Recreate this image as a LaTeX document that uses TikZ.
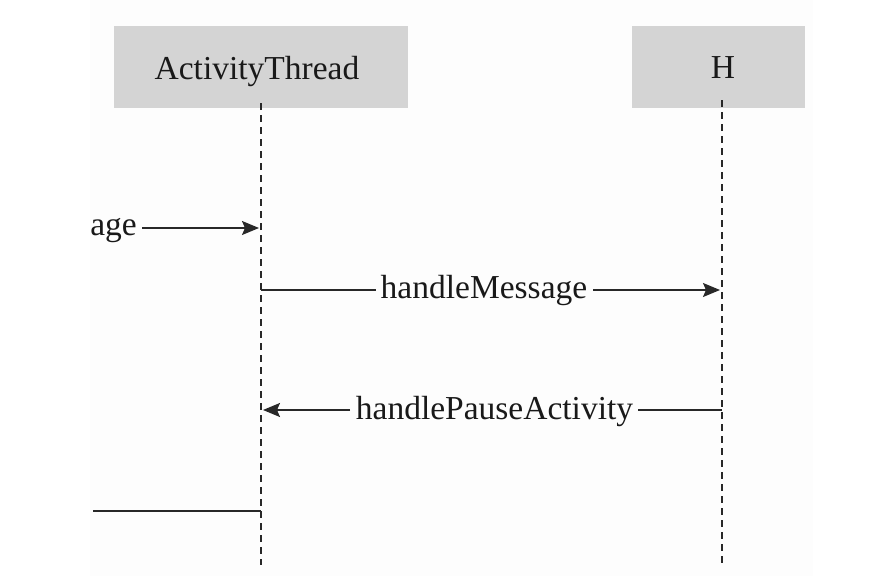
\documentclass[tikz,border=0pt]{standalone}
\usepackage{fontspec}
\setmainfont{Liberation Serif}
\usetikzlibrary{arrows.meta}
\definecolor{boxgray}{RGB}{212,212,212}
\definecolor{inkc}{RGB}{25,25,25}
\definecolor{linec}{RGB}{40,40,40}
\definecolor{panel}{RGB}{253,253,253}
\tikzset{
  actorbox/.style={fill=boxgray, draw=none, minimum height=82pt, inner sep=0pt},
  lbl/.style={text=inkc, font=\fontsize{33.5}{40}\selectfont, inner sep=0pt},
  lifeline/.style={draw=linec, line width=1.3pt, dash pattern=on 7pt off 5pt},
  msg/.style={draw=linec, line width=1.6pt},
  arr/.style={msg, -{Stealth[length=17pt,width=14pt,inset=3pt]}}
}
\begin{document}
\begin{tikzpicture}[x=1pt,y=-1pt]
\useasboundingbox (0,0) rectangle (889,576);
\fill[white] (0,0) rectangle (889,576);
\fill[panel] (90,0) rectangle (813,576);

% actors
\node[actorbox, minimum width=294pt] (at) at (261,67) {};
\node[actorbox, minimum width=173pt] (h) at (718.5,67) {};
\node[lbl, anchor=base] (atname) at (257,79.5) {ActivityThread};
\node[lbl, anchor=base] (hname) at (723,78) {H};

% lifelines
\coordinate (atTop) at (261,103);
\coordinate (atBot) at (261,565);
\coordinate (hTop) at (722,100);
\coordinate (hBot) at (722,565);
\draw[lifeline] (atTop) -- (atBot);
\draw[lifeline] (hTop) -- (hBot);

% message 1: age -> ActivityThread
\node[lbl, anchor=base east] (age) at (137,235) {age};
\coordinate (m1s) at (142,228);
\coordinate (m1e) at (259,228);
\draw[arr] (m1s) -- (m1e);

% message 2: handleMessage ActivityThread -> H
\node[lbl, anchor=base] (hm) at (484,298) {handleMessage};
\coordinate (m2s) at (261,290);
\coordinate (m2a) at (376,290);
\coordinate (m2b) at (593,290);
\coordinate (m2e) at (720,290);
\draw[msg] (m2s) -- (m2a);
\draw[arr] (m2b) -- (m2e);

% message 3: handlePauseActivity H -> ActivityThread
\node[lbl, anchor=base] (hp) at (494.5,419) {handlePauseActivity};
\coordinate (m3s) at (722,410);
\coordinate (m3a) at (638,410);
\coordinate (m3b) at (350,410);
\coordinate (m3e) at (263,410);
\draw[msg] (m3s) -- (m3a);
\draw[arr] (m3b) -- (m3e);

% bottom line
\coordinate (m4s) at (93,511);
\coordinate (m4e) at (261,511);
\draw[msg] (m4s) -- (m4e);
\end{tikzpicture}
\end{document}
